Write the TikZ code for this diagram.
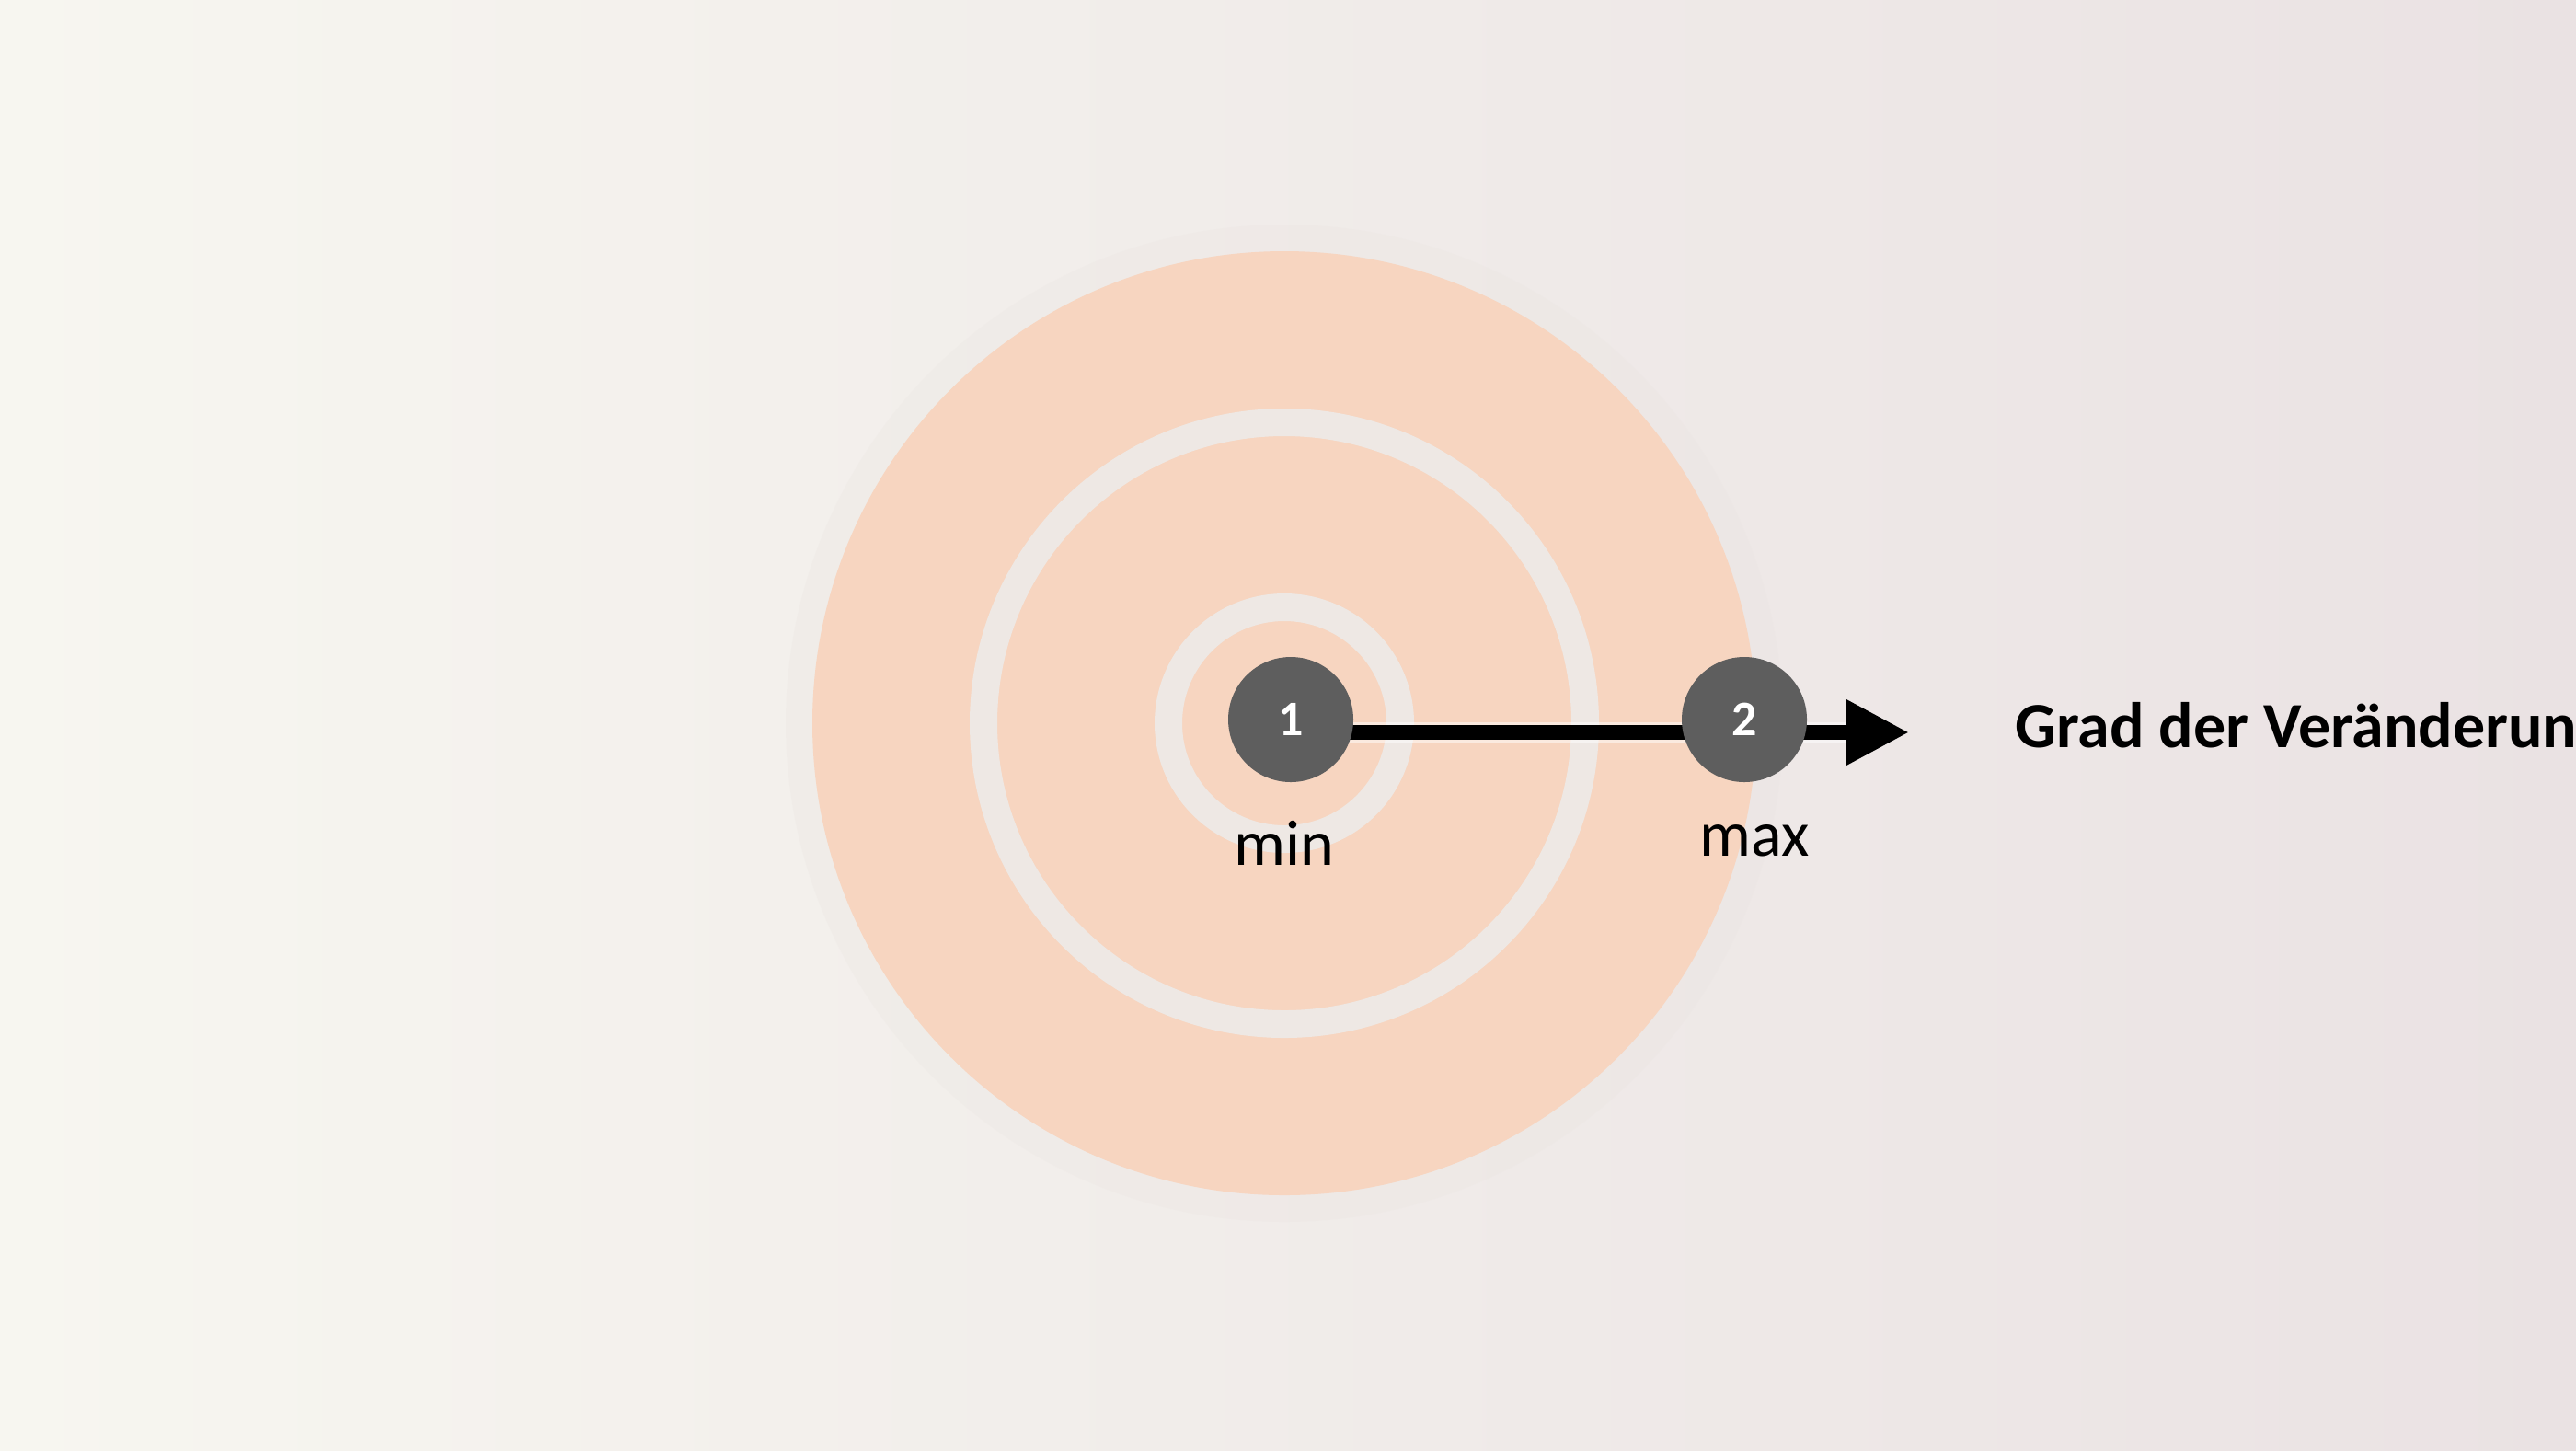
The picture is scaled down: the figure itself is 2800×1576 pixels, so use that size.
\documentclass[tikz,border=0pt]{standalone}
\usepackage{fontspec}
\setmainfont{Carlito}
\usetikzlibrary{arrows.meta}
\definecolor{bgL}{HTML}{F7F6F0}
\definecolor{bgR}{HTML}{EAE2E3}
\definecolor{peach}{HTML}{F7D5C0}
\definecolor{ringc}{HTML}{EEE8E4}
\definecolor{haloc}{HTML}{EAE4E0}
\definecolor{nodec}{HTML}{5E5E5E}
\pgfdeclarelayer{bg}
\pgfsetlayers{bg,main}
\tikzset{
  numnode/.style={circle, fill=nodec, minimum size=34pt, inner sep=0pt, text=white, font=\fontsize{13.5}{15}\selectfont\bfseries},
  lbl/.style={anchor=base, inner sep=0pt, font=\fontsize{17.5}{20}\selectfont},
  title/.style={anchor=base west, inner sep=0pt, font=\fontsize{17.5}{20}\selectfont\bfseries},
  ring/.style={draw=ringc, line width=7.5pt},
  axisline/.style={line width=4pt, -{Triangle[length=17.25pt, width=17pt]}},
  axishalo/.style={line width=5.5pt, draw=white, opacity=0.5}
}
\begin{document}
\begin{tikzpicture}[x=0.25pt,y=0.25pt]
\useasboundingbox (0,0) rectangle (2800,-1576);
\begin{pgfonlayer}{bg}
\shade[left color=bgL, right color=bgR] (0,0) rectangle (2800,-1576);
% target
\fill[haloc, opacity=0.25] (1396,-786) circle (542);
\fill[peach] (1396,-786) circle (513);
\draw[ring] (1396,-786) circle (327);
\draw[ring] (1396,-786) circle (126);
\end{pgfonlayer}
% nodes
\node[numnode] (n1) at (1403,-782) {1};
\node[numnode] (n2) at (1896,-782) {2};
\coordinate (tip) at (2075,-796);
\coordinate (tiphalo) at (2010,-796);
\begin{pgfonlayer}{bg}
\draw[axishalo] ([yshift=-3.5pt]n1.center) -- (tiphalo);
\draw[axisline] ([yshift=-3.5pt]n1.center) -- (tip);
\end{pgfonlayer}
\node[lbl] (lmin) at (1396,-940) {min};
\node[lbl] (lmax) at (1907,-930) {max};
\node[title] (t) at (2190,-812) {Grad der Veränderung};
\end{tikzpicture}
\end{document}
